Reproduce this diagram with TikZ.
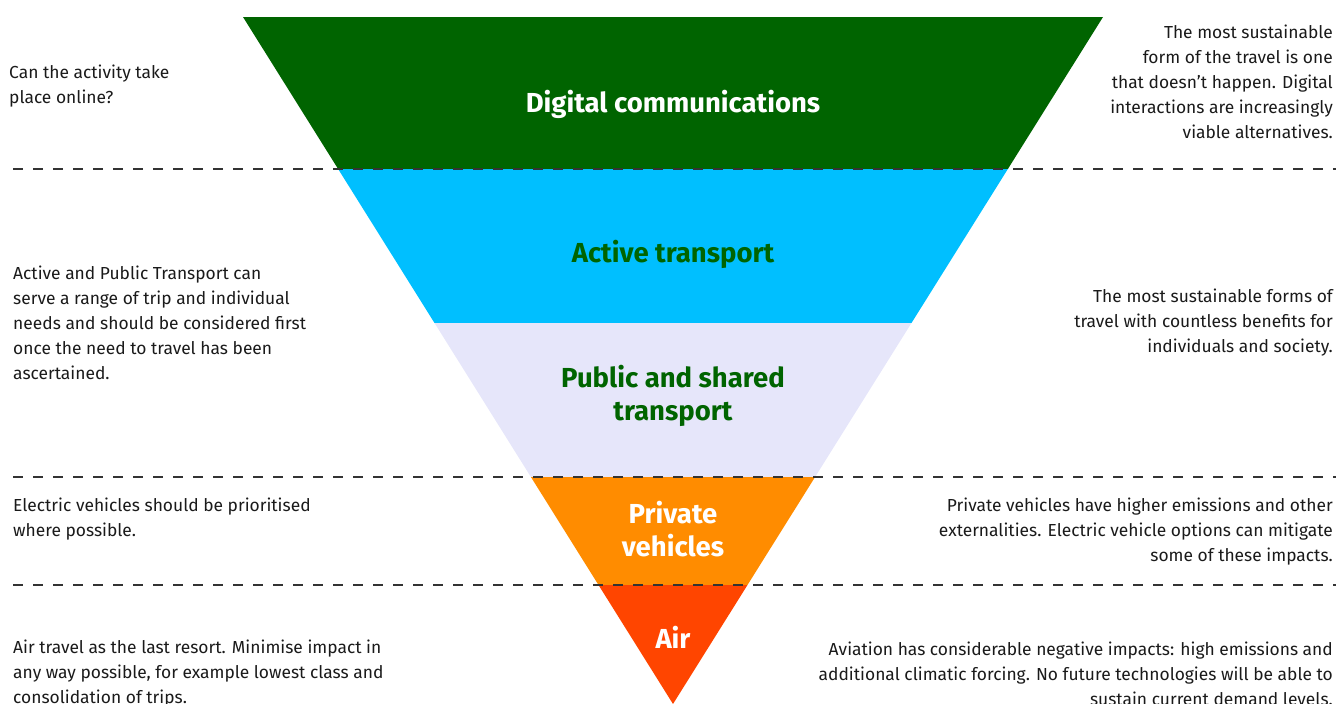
\documentclass[tikz,border=0pt]{standalone}
\usepackage{fontspec}
\setmainfont{Fira Sans}
\definecolor{dgreen}{HTML}{006400}
\definecolor{sky}{HTML}{00BFFF}
\definecolor{lav}{HTML}{E6E6FA}
\definecolor{dorange}{HTML}{FF8C00}
\definecolor{ored}{HTML}{FF4500}
\definecolor{textgray}{HTML}{1A1A1A}
\definecolor{dashgray}{HTML}{333333}
\begin{document}
\begin{tikzpicture}[x=1pt,y=-1pt,
  desc/.style={font=\fontsize{17.4}{25}\selectfont, text=textgray, inner sep=0pt},
  ldesc/.style={desc, align=left, anchor=west},
  rdesc/.style={desc, align=right, anchor=east},
  title/.style={font=\fontsize{27.5}{33.5}\selectfont\bfseries, align=center, inner sep=0pt},
  sep/.style={draw=dashgray, line width=2pt, dash pattern=on 10pt off 10pt}]
\useasboundingbox (0,0) rectangle (1336,704);
\begin{scope}
  \clip (243,17) -- (1103,17) -- (673,704) -- cycle;
  \fill[dgreen] (200,17) rectangle (1150,169);
  \fill[sky] (200,169) rectangle (1150,323);
  \fill[lav] (200,323) rectangle (1150,477);
  \fill[dorange] (200,477) rectangle (1150,585);
  \fill[ored] (200,585) rectangle (1150,710);
\end{scope}
\coordinate (s1a) at (13,169); \coordinate (s1b) at (1336,169);
\coordinate (s2a) at (13,477); \coordinate (s2b) at (1336,477);
\coordinate (s3a) at (13,585); \coordinate (s3b) at (1336,585);
\draw[sep] (s1a) -- (s1b);
\draw[sep] (s2a) -- (s2b);
\draw[sep] (s3a) -- (s3b);
\node[title, text=white] (t1) at (673,104) {Digital communications};
\node[title, text=dgreen] (t2) at (673,254) {Active transport};
\node[title, text=dgreen] (t3) at (673,396) {Public and shared\\transport};
\node[title, text=white] (t4) at (673,529) {Private\\vehicles};
\node[title, text=white] (t5) at (673,637) {Air};
\node[ldesc] (l1) at (9,86) {Can the activity take\\place online?};
\node[ldesc] (l2) at (13,323) {Active and Public Transport can\\serve a range of trip and individual\\needs and should be considered first\\once the need to travel has been\\ascertained.};
\node[ldesc] (l3) at (13,519) {Electric vehicles should be prioritised\\where possible.};
\node[ldesc] (l4) at (13,674) {Air travel as the last resort. Minimise impact in\\any way possible, for example lowest class and\\consolidation of trips.};
\node[rdesc] (r1) at (1333,82) {The most sustainable\\form of the travel is one\\that doesn’t happen. Digital\\interactions are increasingly\\viable alternatives.};
\node[rdesc] (r2) at (1333,323) {The most sustainable forms of\\travel with countless benefits for\\individuals and society.};
\node[rdesc] (r3) at (1333,532) {Private vehicles have higher emissions and other\\externalities. Electric vehicle options can mitigate\\some of these impacts.};
\node[rdesc] (r4) at (1333,674) {Aviation has considerable negative impacts: high emissions and\\additional climatic forcing. No future technologies will be able to\\sustain current demand levels.};
\end{tikzpicture}
\end{document}
